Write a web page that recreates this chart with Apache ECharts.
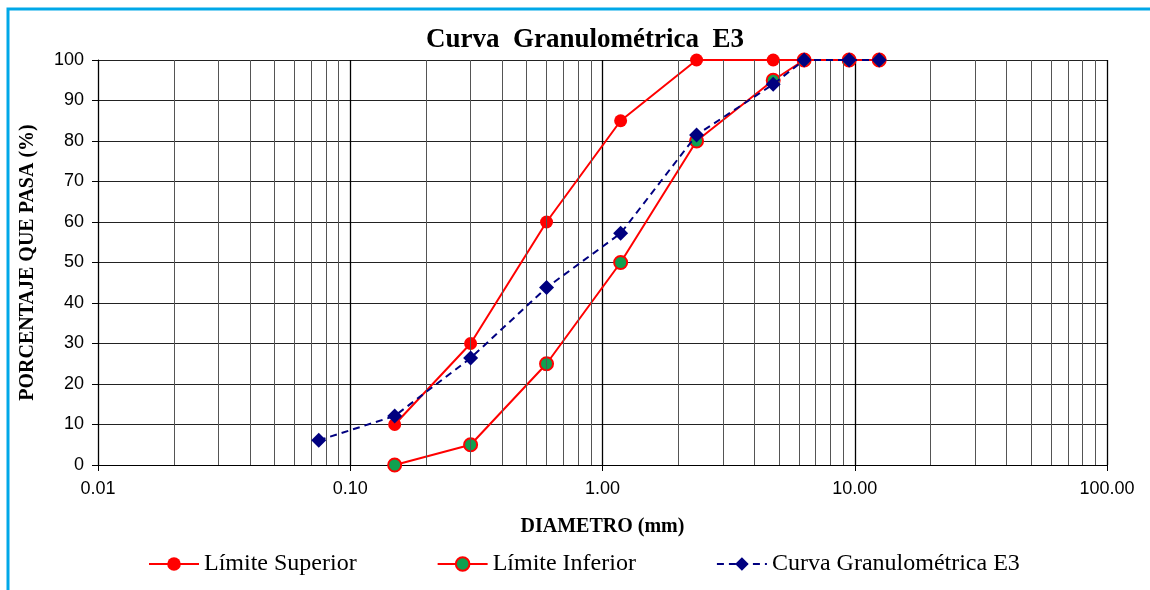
<!DOCTYPE html>
<html><head><meta charset="utf-8">
<script src="https://cdn.jsdelivr.net/npm/echarts@6/dist/echarts.min.js"></script>
<style>html,body{margin:0;padding:0;background:#fff}#c{width:1150px;height:590px}</style>
</head><body><div id="c"></div>
<script>
const diam = [0.075, 0.15, 0.3, 0.6, 1.18, 2.36, 4.75, 6.3, 9.5, 12.5];
const limSup = [null, 10, 30, 60, 85, 100, 100, 100, 100, 100];
const limInf = [null, 0, 5, 25, 50, 80, 95, 100, 100, 100];
const curva = [6.1, 12.1, 26.4, 43.8, 57.2, 81.5, 94, 100, 100, 100];
const minorTicks = [];
[0.01, 0.1, 1, 10].forEach(d => { for (let k = 2; k <= 9; k++) minorTicks.push(+(d * k).toPrecision(3)); });
const pair = (v) => diam.map((d, i) => v[i] == null ? null : [d, v[i]]).filter(p => p);
const serif = '"Liberation Serif", "Times New Roman", serif';
const sans = '"Liberation Sans", Arial, sans-serif';
const chart = echarts.init(document.getElementById('c'));
chart.setOption({
  animation: false,
  title: { text: 'Curva  Granulométrica  E3', left: 580, textAlign: 'center', top: 22,
    textStyle: { fontFamily: serif, fontWeight: 'bold', fontSize: 27, color: '#000' } },
  grid: { left: 98, right: 43, top: 60, bottom: 125 },
  xAxis: { type: 'log', logBase: 10, min: 0.01, max: 100,
    name: 'DIAMETRO (mm)', nameLocation: 'middle', nameGap: 52,
    nameTextStyle: { fontFamily: serif, fontWeight: 'bold', fontSize: 20, color: '#000' },
    axisLine: { lineStyle: { color: '#000', width: 1 } },
    axisTick: { show: true, length: 6, lineStyle: { color: '#000' } },
    axisLabel: { fontFamily: sans, fontSize: 18, color: '#000', margin: 15,
      formatter: v => Number(v).toFixed(2) },
    splitLine: { show: true, lineStyle: { color: '#000', width: 1.3 } } },
  yAxis: { type: 'value', min: 0, max: 100, interval: 10,
    name: 'PORCENTAJE QUE PASA (%)', nameLocation: 'middle', nameGap: 60, nameRotate: 90,
    nameTextStyle: { fontFamily: serif, fontWeight: 'bold', fontSize: 20, color: '#000' },
    axisLine: { show: true, lineStyle: { color: '#000' } },
    axisTick: { show: true, length: 6, lineStyle: { color: '#000' } },
    axisLabel: { fontFamily: sans, fontSize: 18, color: '#000', margin: 14 },
    splitLine: { show: true, lineStyle: { color: '#222', width: 1 } } },
  legend: { bottom: 9, left: 143, itemGap: 80, itemWidth: 50, itemHeight: 17,
    textStyle: { fontFamily: serif, fontSize: 24, color: '#000' },
    data: ['Límite Superior', 'Límite Inferior', 'Curva Granulométrica E3'] },
  series: [
    { name: 'minor', type: 'line', data: [], silent: true,
      markLine: { silent: true, symbol: 'none', label: { show: false },
        lineStyle: { color: '#555', width: 1, type: 'solid' },
        data: minorTicks.map(v => ({ xAxis: v })) } },
    { name: 'Límite Superior', type: 'line', data: pair(limSup), z: 3,
      lineStyle: { color: '#FF0000', width: 2 }, itemStyle: { color: '#FF0000' },
      symbol: 'circle', symbolSize: 13 },
    { name: 'Límite Inferior', type: 'line', data: pair(limInf), z: 4,
      lineStyle: { color: '#FF0000', width: 2 },
      itemStyle: { color: '#10A050', borderColor: '#FF0000', borderWidth: 2 },
      symbol: 'circle', symbolSize: 13 },
    { name: 'Curva Granulométrica E3', type: 'line', data: pair(curva), z: 5,
      lineStyle: { color: '#000080', width: 2, type: [7, 5] }, itemStyle: { color: '#000080' },
      symbol: 'diamond', symbolSize: 15 }
  ],
  graphic: [
    { type: 'rect', shape: { x: 8, y: 9, width: 1200, height: 700 },
      style: { fill: 'none', stroke: '#00A8E8', lineWidth: 3 }, silent: true }
  ]
});
</script></body></html>
